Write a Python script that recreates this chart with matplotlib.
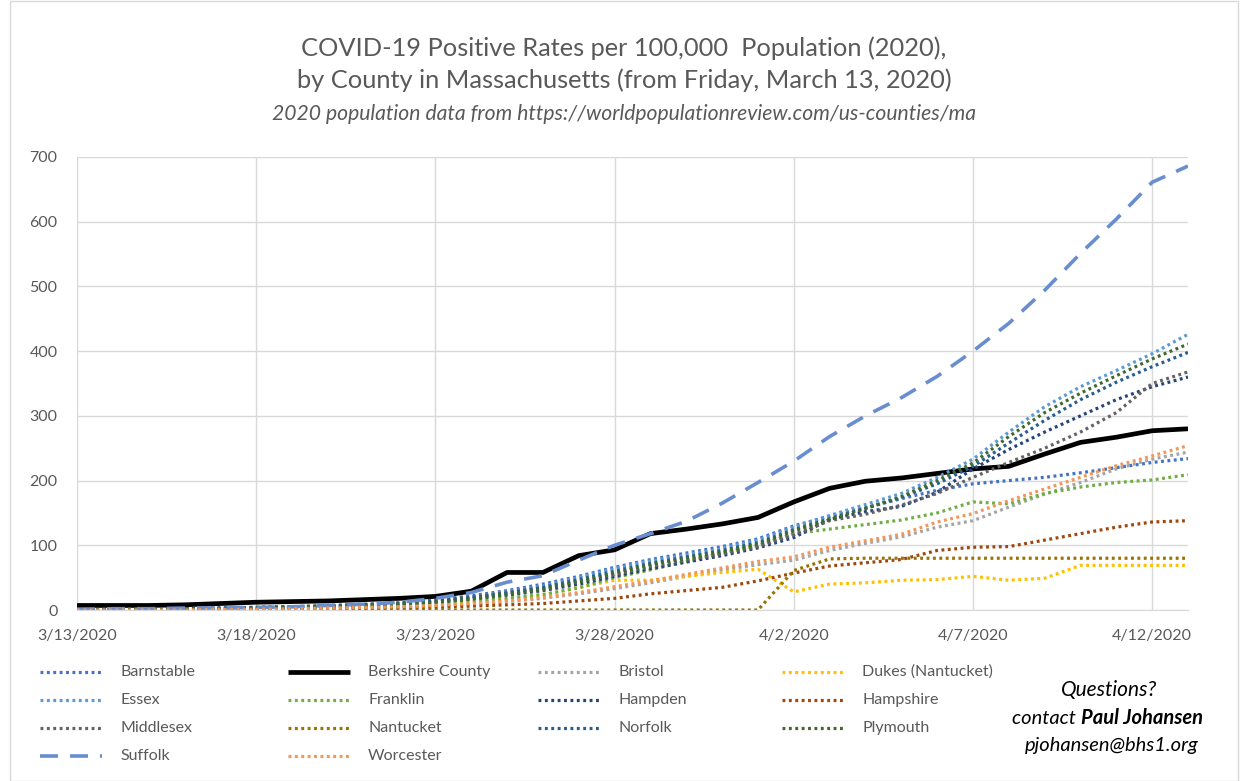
import numpy as np
import pandas as pd
import matplotlib
matplotlib.use("Agg")
import matplotlib.pyplot as plt
from matplotlib.lines import Line2D
from matplotlib.patches import Rectangle

plt.rcParams['font.family'] = ['Lato', 'DejaVu Sans']

# daily rates per 100,000, 3/13/2020 .. 4/13/2020
dates = pd.date_range('2020-03-13', periods=32, freq='D')

barnstable = [0, 0, 1, 1, 2, 3, 4, 6, 8, 11, 15, 22, 30, 40, 52, 66, 78, 88, 98, 110, 130, 145, 158, 172, 185, 195, 200, 205, 212, 220, 228, 234]
berkshire = [7, 7, 7, 8, 10, 12, 13, 14, 16, 18, 21, 29, 58, 58, 84, 93, 118, 125, 133, 143, 167, 188, 199, 204, 211, 218, 222, 241, 259, 267, 277, 280]
bristol = [0, 0, 0, 0, 0, 1, 1, 2, 3, 4, 6, 9, 13, 18, 25, 33, 42, 52, 62, 70, 77, 92, 103, 113, 128, 138, 159, 179, 197, 218, 233, 244]
dukes = [0, 0, 0, 0, 0, 0, 0, 0, 6, 6, 6, 12, 17, 23, 35, 46, 46, 52, 58, 63, 28, 40, 42, 46, 47, 52, 46, 49, 69, 69, 69, 69]
essex = [0, 1, 1, 2, 3, 4, 5, 6, 8, 10, 14, 20, 28, 37, 50, 64, 76, 85, 95, 108, 128, 146, 163, 180, 205, 233, 275, 314, 345, 370, 396, 426]
franklin = [0, 0, 0, 0, 1, 1, 2, 3, 4, 6, 9, 13, 18, 24, 34, 50, 62, 75, 88, 100, 118, 125, 132, 139, 150, 167, 164, 180, 190, 197, 201, 209]
hampden = [0, 0, 1, 1, 2, 3, 4, 5, 7, 9, 12, 17, 23, 30, 40, 52, 64, 74, 84, 96, 112, 140, 152, 160, 182, 218, 248, 275, 300, 325, 345, 360]
hampshire = [0, 0, 0, 0, 0, 0, 1, 1, 2, 3, 4, 6, 8, 10, 14, 18, 25, 30, 35, 45, 57, 68, 73, 78, 92, 97, 98, 108, 118, 128, 136, 138]
middlesex = [1, 1, 2, 2, 3, 4, 5, 7, 9, 11, 15, 20, 27, 34, 44, 55, 67, 77, 87, 98, 116, 138, 148, 162, 180, 205, 228, 250, 275, 305, 350, 368]
nantucket = [0] * 20 + [61, 79] + [80] * 10
norfolk = [0, 1, 1, 2, 3, 4, 5, 6, 8, 10, 14, 19, 26, 35, 47, 60, 72, 82, 92, 104, 124, 141, 157, 174, 195, 222, 258, 293, 325, 352, 376, 398]
plymouth = [0, 0, 1, 1, 2, 3, 4, 5, 7, 9, 12, 17, 24, 32, 44, 57, 70, 80, 90, 102, 122, 140, 157, 175, 200, 227, 268, 305, 335, 362, 388, 411]
suffolk = [1, 2, 2, 3, 3, 4, 5, 7, 9, 12, 18, 27, 43, 53, 77, 100, 118, 137, 165, 197, 230, 268, 300, 328, 361, 400, 443, 494, 551, 604, 661, 686]
worcester = [0, 0, 0, 0, 1, 1, 2, 3, 4, 5, 7, 10, 14, 19, 27, 36, 45, 55, 65, 75, 82, 97, 107, 117, 136, 149, 169, 187, 205, 223, 238, 254]

names = ['Barnstable', 'Berkshire County', 'Bristol', 'Dukes (Nantucket)',
         'Essex', 'Franklin', 'Hampden', 'Hampshire',
         'Middlesex', 'Nantucket', 'Norfolk', 'Plymouth',
         'Suffolk', 'Worcester']
values = [barnstable, berkshire, bristol, dukes, essex, franklin, hampden, hampshire,
          middlesex, nantucket, norfolk, plymouth, suffolk, worcester]
colors = ['#4472C4', '#000000', '#A5A5A5', '#FFC000', '#5B9BD5', '#70AD47', '#264478', '#9E480E',
          '#636363', '#997300', '#255E91', '#43682B', '#698ED0', '#F1975A']

dot = (0, (0.9, 1.1))
styles = []
for n in names:
    if n == 'Berkshire County':
        styles.append(dict(ls='-', lw=3.4))
    elif n == 'Suffolk':
        styles.append(dict(ls=(0, (5, 3.3)), lw=2.6))
    else:
        styles.append(dict(ls=dot, lw=2.3))

fig = plt.figure(figsize=(12.48, 7.81), dpi=100)
ax = fig.add_axes([77 / 1248, 1 - 610 / 781, (1188 - 77) / 1248, (610 - 157) / 781])

for n, v, c, st in zip(names, values, colors, styles):
    ax.plot(dates, v, color=c, solid_capstyle='butt', dash_capstyle='butt', **st)

ax.set_xlim(dates[0], dates[-1])
ax.set_ylim(0, 700)
ax.set_yticks(range(0, 701, 100))
tick_dates = dates[::5]
ax.set_xticks(tick_dates)
ax.set_xticklabels([f"{d.month}/{d.day}/{d.year}" for d in tick_dates])
ax.grid(True, color='#D9D9D9', lw=1)
ax.set_axisbelow(True)
for s in ['top', 'right', 'left']:
    ax.spines[s].set_visible(False)
ax.spines['bottom'].set_color('#D9D9D9')
ax.tick_params(length=0, colors='#595959', labelsize=11.5)
ax.tick_params(axis='x', pad=14)
ax.tick_params(axis='y', pad=14)

fig.text(0.5, 1 - 48 / 781, 'COVID-19 Positive Rates per 100,000  Population (2020),',
         ha='center', va='center', fontsize=18.3, color='#595959')
fig.text(0.5, 1 - 80 / 781, 'by County in Massachusetts (from Friday, March 13, 2020)',
         ha='center', va='center', fontsize=18.3, color='#595959')
fig.text(0.5, 1 - 114 / 781, '2020 population data from https://worldpopulationreview.com/us-counties/ma',
         ha='center', va='center', fontsize=15.2, style='italic', color='#595959')

# legend, 4 columns like the Excel chart
col_x = [40, 288, 538, 782]
row_y = [672, 700, 728, 756]
for i, (n, c, st) in enumerate(zip(names, colors, styles)):
    r, k = divmod(i, 4)
    x0 = col_x[k]
    y = 1 - row_y[r] / 781
    fig.add_artist(Line2D([x0 / 1248, (x0 + 62) / 1248], [y, y], color=c,
                          solid_capstyle='butt', dash_capstyle='butt', **st))
    fig.text((x0 + 80) / 1248, y, n, ha='left', va='center', fontsize=11.5, color='#595959')

fig.text(1109 / 1248, 1 - 690 / 781, 'Questions?', ha='center', va='center',
         fontsize=15, style='italic', color='black')
fig.text(1081 / 1248, 1 - 718 / 781, 'contact ', ha='right', va='center',
         fontsize=14.5, style='italic', color='black')
fig.text(1081 / 1248, 1 - 718 / 781, 'Paul Johansen', ha='left', va='center',
         fontsize=14.5, style='italic', weight='bold', color='black')
fig.text(1112 / 1248, 1 - 745 / 781, 'pjohansen@bhs1.org', ha='center', va='center',
         fontsize=14.5, style='italic', color='black')

fig.add_artist(Rectangle((10 / 1248, 0), 1228 / 1248, 0.999, transform=fig.transFigure,
                         fill=False, ec='#D9D9D9', lw=1))

fig.savefig('out.png', dpi=100)
